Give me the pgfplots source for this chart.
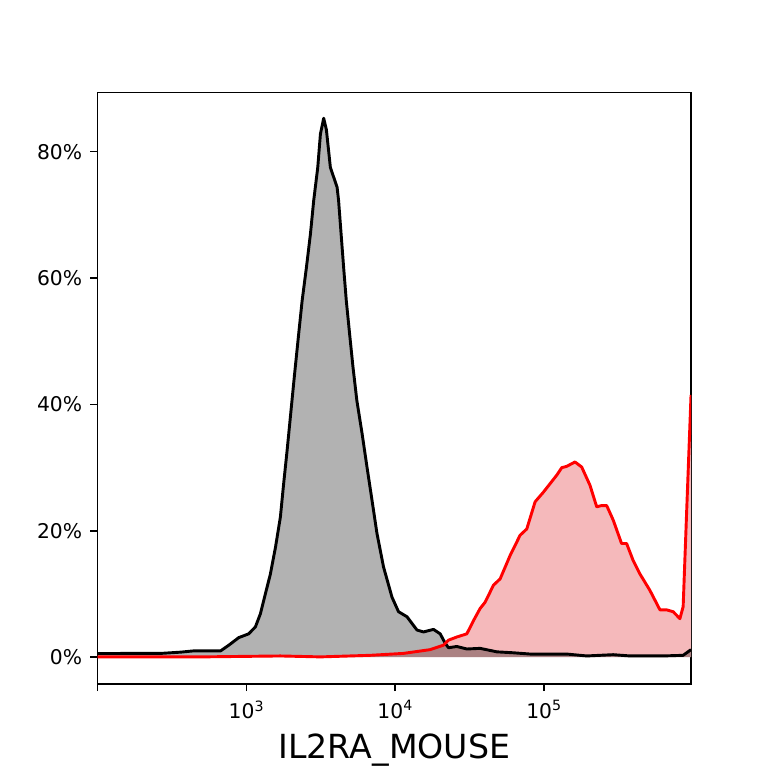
\documentclass[border=0pt]{standalone}
\usepackage{fontspec}
\setmainfont{DejaVu Sans}
\usepackage{pgfplots}
\pgfplotsset{compat=1.18}
\definecolor{pinkfill}{RGB}{245,185,187}
\begin{document}
\begin{tikzpicture}
\path (-70.34pt,-60.48pt) rectangle (482.62pt,492.48pt);
\begin{axis}[at={(0,0)}, anchor=south west, scale only axis,
  width=427.2pt, height=426pt,
  xmin=2, xmax=5.988, ymin=-4.24, ymax=89.4,
  xtick={2,3,4,5}, xticklabels={,10\textsuperscript{3},10\textsuperscript{4},10\textsuperscript{5}},
  ytick={0,20,40,60,80}, yticklabels={0\%,20\%,40\%,60\%,80\%},
  tick align=outside, major tick length=5.2pt,
  tick style={black, line width=1.1pt},
  axis line style={line width=1.1pt},
  xtick pos=bottom, ytick pos=left,
  minor tick num=0,
  ticklabel style={font=\fontsize{14.6}{17}\selectfont},
  xticklabel style={yshift=-3.2pt},
  yticklabel style={xshift=-2.5pt},
  xlabel={IL2RA\_MOUSE},
  xlabel style={font=\fontsize{23.9}{28}\selectfont, inner sep=0pt, at={(axis description cs:0.5,0)}, anchor=base, yshift=-53.3pt},
]
% red series (fill)
\addplot[draw=none, fill=pinkfill] coordinates {
(2.000,0.05) (2.700,0.05) (3.228,0.2) (3.497,0.05) (3.832,0.3) (4.054,0.6) (4.235,1.2)
(4.324,1.9) (4.358,2.7) (4.414,3.2) (4.481,3.7) (4.526,5.8) (4.570,7.7) (4.604,8.7)
(4.660,11.4) (4.705,12.4) (4.772,16.1) (4.839,19.3) (4.884,20.3) (4.940,24.6) (4.995,26.1)
(5.085,28.8) (5.119,30.0) (5.152,30.2) (5.208,30.9) (5.253,30.1) (5.309,27.2) (5.354,23.8)
(5.387,24.0) (5.421,24.0) (5.465,21.7) (5.521,18.0) (5.555,18.0) (5.599,15.3) (5.644,13.2)
(5.711,10.6) (5.779,7.5) (5.823,7.5) (5.868,7.2) (5.913,6.1) (5.935,8.0) (5.958,22.7) (5.988,41.5)
} \closedcycle;
% gray series (fill)
\addplot[draw=none, fill=black, fill opacity=0.3] coordinates {
(2.000,0.58) (2.221,0.6) (2.423,0.6) (2.557,0.8) (2.644,1.0) (2.826,1.0) (2.881,1.9)
(2.948,3.1) (3.015,3.7) (3.060,4.8) (3.094,6.9) (3.128,10.1) (3.161,13.2) (3.195,17.4)
(3.228,22.2) (3.250,27.5) (3.273,32.7) (3.295,38.0) (3.322,44.5) (3.351,51.2) (3.374,56.4)
(3.403,61.7) (3.430,67.0) (3.452,72.3) (3.479,77.5) (3.497,82.8) (3.519,85.3) (3.537,83.5)
(3.564,77.5) (3.609,74.4) (3.619,72.3) (3.636,67.0) (3.653,61.7) (3.671,56.4) (3.693,51.2)
(3.716,45.9) (3.742,40.6) (3.777,35.4) (3.810,30.1) (3.844,24.8) (3.877,19.6) (3.921,14.3)
(3.978,9.5) (4.022,7.2) (4.079,6.4) (4.146,4.3) (4.190,4.0) (4.257,4.4) (4.302,3.7)
(4.336,2.2) (4.358,1.5) (4.414,1.7) (4.481,1.3) (4.570,1.4) (4.683,0.85) (4.794,0.7)
(4.906,0.5) (5.018,0.5) (5.152,0.5) (5.287,0.2) (5.465,0.4) (5.577,0.2) (5.801,0.2)
(5.935,0.3) (5.988,1.2)
} \closedcycle;
% black line
\addplot[black, line width=2.1pt, line join=round] coordinates {
(2.000,0.58) (2.221,0.6) (2.423,0.6) (2.557,0.8) (2.644,1.0) (2.826,1.0) (2.881,1.9)
(2.948,3.1) (3.015,3.7) (3.060,4.8) (3.094,6.9) (3.128,10.1) (3.161,13.2) (3.195,17.4)
(3.228,22.2) (3.250,27.5) (3.273,32.7) (3.295,38.0) (3.322,44.5) (3.351,51.2) (3.374,56.4)
(3.403,61.7) (3.430,67.0) (3.452,72.3) (3.479,77.5) (3.497,82.8) (3.519,85.3) (3.537,83.5)
(3.564,77.5) (3.609,74.4) (3.619,72.3) (3.636,67.0) (3.653,61.7) (3.671,56.4) (3.693,51.2)
(3.716,45.9) (3.742,40.6) (3.777,35.4) (3.810,30.1) (3.844,24.8) (3.877,19.6) (3.921,14.3)
(3.978,9.5) (4.022,7.2) (4.079,6.4) (4.146,4.3) (4.190,4.0) (4.257,4.4) (4.302,3.7)
(4.336,2.2) (4.358,1.5) (4.414,1.7) (4.481,1.3) (4.570,1.4) (4.683,0.85) (4.794,0.7)
(4.906,0.5) (5.018,0.5) (5.152,0.5) (5.287,0.2) (5.465,0.4) (5.577,0.2) (5.801,0.2)
(5.935,0.3) (5.988,1.2)
};
% red line
\addplot[red, line width=2.1pt, line join=round] coordinates {
(2.000,0.05) (2.700,0.05) (3.228,0.2) (3.497,0.05) (3.832,0.3) (4.054,0.6) (4.235,1.2)
(4.324,1.9) (4.358,2.7) (4.414,3.2) (4.481,3.7) (4.526,5.8) (4.570,7.7) (4.604,8.7)
(4.660,11.4) (4.705,12.4) (4.772,16.1) (4.839,19.3) (4.884,20.3) (4.940,24.6) (4.995,26.1)
(5.085,28.8) (5.119,30.0) (5.152,30.2) (5.208,30.9) (5.253,30.1) (5.309,27.2) (5.354,23.8)
(5.387,24.0) (5.421,24.0) (5.465,21.7) (5.521,18.0) (5.555,18.0) (5.599,15.3) (5.644,13.2)
(5.711,10.6) (5.779,7.5) (5.823,7.5) (5.868,7.2) (5.913,6.1) (5.935,8.0) (5.958,22.7) (5.988,41.5)
};
\end{axis}
\end{tikzpicture}
\end{document}
